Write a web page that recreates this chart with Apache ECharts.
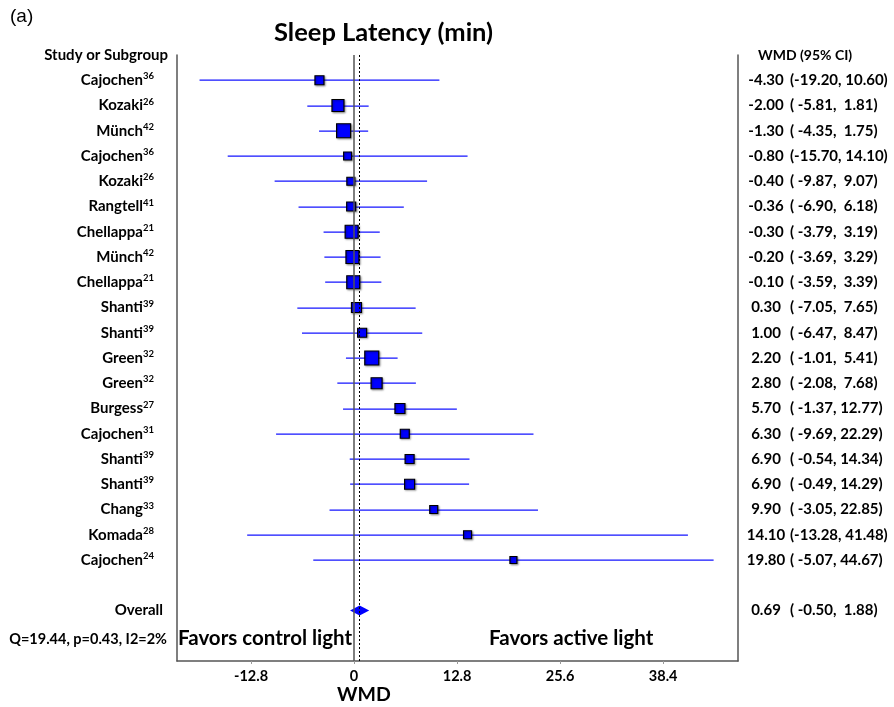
<!DOCTYPE html>
<html>
<head>
<meta charset="utf-8">
<script src="https://cdn.jsdelivr.net/npm/echarts@6/dist/echarts.min.js"></script>
<style>
  html, body { margin: 0; padding: 0; background: #fff; }
  #chart { width: 894px; height: 707px; }
</style>
</head>
<body>
<div id="chart"></div>
<script>
  // study rows, top to bottom
  const studies = ['Cajochen','Kozaki','Münch','Cajochen','Kozaki','Rangtell','Chellappa','Münch','Chellappa','Shanti',
                   'Shanti','Green','Green','Burgess','Cajochen','Shanti','Shanti','Chang','Komada','Cajochen'];
  const refs = ['36','26','42','36','26','41','21','42','21','39','39','32','32','27','31','39','39','33','28','24'];
  const est = [-4.30,-2.00,-1.30,-0.80,-0.40,-0.36,-0.30,-0.20,-0.10,0.30,1.00,2.20,2.80,5.70,6.30,6.90,6.90,9.90,14.10,19.80];
  const lo = [-19.20,-5.81,-4.35,-15.70,-9.87,-6.90,-3.79,-3.69,-3.59,-7.05,-6.47,-1.01,-2.08,-1.37,-9.69,-0.54,-0.49,-3.05,-13.28,-5.07];
  const hi = [10.60,1.81,1.75,14.10,9.07,6.18,3.19,3.29,3.39,7.65,8.47,5.41,7.68,12.77,22.29,14.34,14.29,22.85,41.48,44.67];
  // box size ~ study weight (px)
  const boxSize = [9,12,14,8,8,9,13,13,13,10,9,14,11,10,9,9,10,8,8,7];

  const overall = { est: 0.69, lo: -0.50, hi: 1.88 };
  const overallRow = 21;
  const hetText = 'Q=19.44, p=0.43, I2=2%';
  const xTicks = [-12.8, 0, 12.8, 25.6, 38.4];

  const font = 'Lato';
  const lblSize = 15;
  const myChart = echarts.init(document.getElementById('chart'));

  function fmtCI(e, l, h) {
    const f = v => v.toFixed(2);
    return '{e|' + f(e) + '}{c|(' + f(l).padStart(6, ' ') + ', ' + f(h).padStart(5, ' ') + ')}';
  }

  const ciData = est.map((e, i) => [lo[i], hi[i], i]);
  const boxData = est.map((e, i) => ({ value: [e, i], symbolSize: boxSize[i] }));

  const txt = { fontFamily: font, fontWeight: 'bold', fontSize: lblSize, color: '#000' };

  const yBase = {
    type: 'value', inverse: true, min: -1, max: 23, interval: 1,
    splitLine: { show: false }, axisTick: { show: false },
    axisLine: { show: true, onZero: false, lineStyle: { color: '#555', width: 1.5 } }
  };

  let option = {
    animation: false,
    title: {
      text: 'Sleep Latency (min)', left: 269, top: 15,
      textStyle: { fontFamily: font, fontWeight: 'bold', fontSize: 25.5, color: '#000' }
    },
    grid: { left: 177, right: 156, top: 55, bottom: 46 },
    xAxis: {
      type: 'value', min: -22, max: 47.7,
      splitLine: { show: false },
      axisLine: { show: true, onZero: false, lineStyle: { color: '#555', width: 1.5 } },
      axisTick: { show: true, length: 3, customValues: xTicks, lineStyle: { color: '#999' } },
      axisLabel: Object.assign({
        customValues: xTicks, margin: 8,
        formatter: v => (v === 0 ? '0' : v.toFixed(1))
      }, txt, { fontSize: 14.5 })
    },
    yAxis: [
      Object.assign({}, yBase, {
        position: 'left',
        axisLabel: Object.assign({
          margin: 9,
          formatter: v => {
            if (v === -1) return '{n|Study or Subgroup}';
            if (v >= 0 && v < studies.length) return '{n|' + studies[v] + '}{s|' + refs[v] + '}';
            if (v === overallRow) return '{o|Overall}';
            if (v === 22) return '{q|' + hetText + '}';
            return '';
          },
          rich: {
            n: Object.assign({ lineHeight: 18 }, txt),
            o: Object.assign({ lineHeight: 18, padding: [0, 5, 0, 0] }, txt),
            q: Object.assign({ lineHeight: 18, padding: [7, 1, 0, 0] }, txt, { fontSize: 14.5 }),
            s: Object.assign({ lineHeight: 18, verticalAlign: 'top', padding: [0, 14, 7, 0] }, txt, { fontSize: 9.5 })
          }
        }, txt)
      }),
      Object.assign({}, yBase, {
        position: 'right',
        axisLabel: Object.assign({
          margin: 11,
          formatter: v => {
            if (v === -1) return '{h|WMD (95% CI)}';
            if (v >= 0 && v < est.length) return fmtCI(est[v], lo[v], hi[v]);
            if (v === overallRow) return fmtCI(overall.est, overall.lo, overall.hi);
            return '';
          },
          rich: {
            h: Object.assign({ padding: [0, 0, 0, 9] }, txt, { fontSize: 14 }),
            e: Object.assign({ width: 34, align: 'right' }, txt),
            c: Object.assign({ padding: [0, 0, 0, 7] }, txt)
          }
        }, txt)
      })
    ],
    graphic: [
      { type: 'text', left: 10, top: 7, style: { text: '(a)', font: '19px "Liberation Sans"', fill: '#000' } },
      { type: 'text', left: 178, top: 628, style: { text: 'Favors control light', font: 'bold 20.5px Lato', fill: '#000' } },
      { type: 'text', left: 489, top: 628, style: { text: 'Favors active light', font: 'bold 20.5px Lato', fill: '#000' } },
      { type: 'text', left: 337, top: 685, style: { text: 'WMD', font: 'bold 19.5px Lato', fill: '#000' } }
    ],
    series: [
      {
        type: 'custom', name: 'ci', z: 2,
        data: ciData,
        renderItem: (params, api) => {
          const a = api.coord([api.value(0), api.value(2)]);
          const b = api.coord([api.value(1), api.value(2)]);
          return {
            type: 'rect',
            shape: { x: a[0], y: Math.round(a[1]) - 0.5, width: b[0] - a[0], height: 1.2 },
            style: { fill: '#1414ff' }
          };
        }
      },
      {
        type: 'scatter', name: 'wmd', z: 3,
        symbol: 'rect',
        data: boxData,
        itemStyle: {
          color: '#0000ff', borderColor: '#000', borderWidth: 1.2, opacity: 1,
          shadowColor: 'rgba(0,0,0,0.35)', shadowBlur: 2, shadowOffsetX: 1, shadowOffsetY: 1
        },
        markLine: {
          silent: true, symbol: 'none', label: { show: false },
          data: [
            { xAxis: 0, lineStyle: { color: '#555', width: 1.5, type: 'solid' } },
            { xAxis: overall.est, lineStyle: { color: '#000', width: 1, type: [2, 2] } }
          ]
        }
      },
      {
        type: 'custom', name: 'overall', z: 4,
        data: [[overall.est, overall.lo, overall.hi, overallRow]],
        renderItem: (params, api) => {
          const y = api.value(3);
          const m = api.coord([api.value(0), y]);
          const l = api.coord([api.value(1), y]);
          const r = api.coord([api.value(2), y]);
          const h = 5;
          return {
            type: 'polygon',
            shape: { points: [[l[0], m[1]], [m[0], m[1] - h], [r[0], m[1]], [m[0], m[1] + h]] },
            style: { fill: '#0000ff' }
          };
        }
      }
    ]
  };
  myChart.setOption(option);
</script>
</body>
</html>
